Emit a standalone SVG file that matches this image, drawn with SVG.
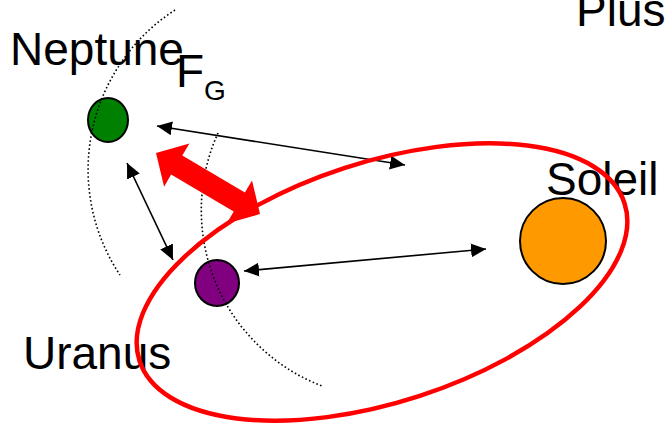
<svg xmlns="http://www.w3.org/2000/svg" width="666" height="423" viewBox="0 0 666 423">
<style>
text{font-family:"Liberation Sans",Arial,sans-serif;fill:#000}
.lbl{font-size:46px}
.planet{stroke:#000;stroke-width:2}
.orbit{fill:none;stroke:#000;stroke-width:1.6;stroke-dasharray:1.6 2.4}
.arr{fill:none;stroke:#000;stroke-width:1.6;marker-start:url(#ah);marker-end:url(#ah)}
</style>
<defs>
<marker id="ah" markerUnits="userSpaceOnUse" markerWidth="16" markerHeight="14" refX="15" refY="7" orient="auto-start-reverse" viewBox="0 0 16 14">
<path d="M0,0 L15,7 L0,14 z" fill="#000"/>
</marker>
</defs>
<rect width="666" height="423" fill="#fff"/>
<text class="lbl" x="576" y="26">Plus</text>
<g id="neptune">
<ellipse class="planet" cx="108" cy="120" rx="20" ry="22" fill="#008000"/>
<text class="lbl" x="10" y="65">Neptune</text>
</g>
<g id="uranus">
<ellipse class="planet" cx="217" cy="283" rx="22" ry="23" fill="#800080"/>
<text class="lbl" x="23" y="369">Uranus</text>
</g>
<g id="soleil">
<circle class="planet" cx="563" cy="241" r="43" fill="#FF9900"/>
<text class="lbl" x="546" y="195">Soleil</text>
</g>
<g id="fg">
<text class="lbl" x="176" y="87">F</text>
<text x="204" y="100" font-size="28">G</text>
</g>
<g id="orbits">
<path class="orbit" d="M175,10 A190,190 0 0 0 120,275"/>
<path class="orbit" d="M218,133 A188,188 0 0 0 322,386"/>
</g>
<g id="connectors">
<line class="arr" x1="157" y1="126" x2="405" y2="165"/>
<line class="arr" x1="127" y1="163" x2="173" y2="260"/>
<line class="arr" x1="244" y1="271" x2="486" y2="249"/>
<polygon fill="#FF0000" points="156,153 189.4,143.6 182.3,155.6 244.9,192.4 252,180.4 260,214 226.7,223.5 233.7,211.4 171.1,174.6 164.1,186.7"/>
</g>
<ellipse id="group" cx="382" cy="282" rx="255" ry="120" transform="rotate(-18 382 282)" fill="none" stroke="#FF0000" stroke-width="4.5"/>
</svg>
